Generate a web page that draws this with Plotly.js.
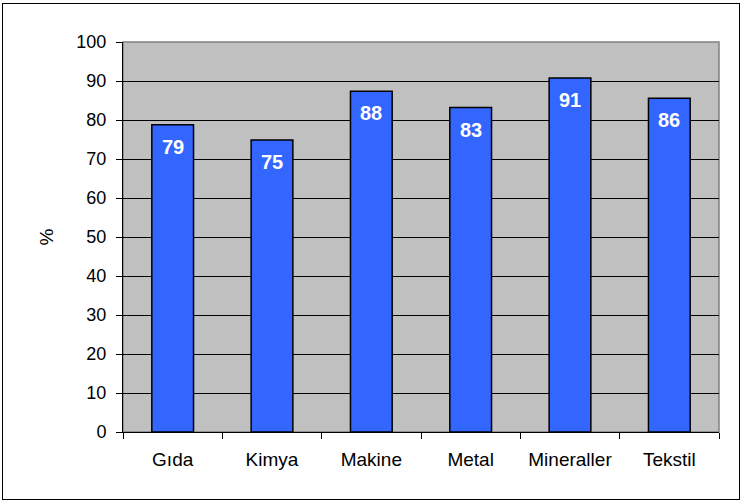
<!DOCTYPE html>
<html><head><meta charset="utf-8">
<script src="https://cdn.plot.ly/plotly-3.0.1.min.js"></script>
<style>
html,body{margin:0;padding:0;background:#fff;}
#wrap{position:relative;width:742px;height:501px;}
#chart{width:742px;height:501px;}
#frame{position:absolute;left:2px;top:3px;width:736px;height:495px;border:1px solid #000;pointer-events:none;}
</style></head><body>
<div id="wrap"><div id="chart"></div><div id="frame"></div></div>
<script>
const categories = ["Gıda", "Kimya", "Makine", "Metal", "Mineraller", "Tekstil"];
const values = [78.8, 74.9, 87.4, 83.2, 90.8, 85.6];
const labels = ["79", "75", "88", "83", "91", "86"];
const yTicks = [0, 10, 20, 30, 40, 50, 60, 70, 80, 90, 100];

const trace = {
  type: "bar",
  x: categories,
  y: values,
  width: 0.42,
  marker: {color: "#3366FF", line: {color: "#000000", width: 1.5}},
  hoverinfo: "none"
};

const annotations = categories.map((c, i) => ({
  x: c, y: values[i], xref: "x", yref: "y",
  text: "<b>" + labels[i] + "</b>", showarrow: false,
  yanchor: "middle", yshift: -22,
  font: {family: "Arial, Liberation Sans, sans-serif", size: 20, color: "#ffffff"}
}));

const layout = {
  width: 742, height: 501,
  margin: {l: 123, r: 23, t: 42, b: 69, pad: 0},
  paper_bgcolor: "#ffffff",
  plot_bgcolor: "#C0C0C0",
  font: {family: "Arial, Liberation Sans, sans-serif", size: 18, color: "#000"},
  showlegend: false,
  bargap: 0.58,
  xaxis: {
    type: "category",
    showgrid: false,
    showline: true, linecolor: "#000", linewidth: 1,
    ticks: "outside", ticklen: 6, tickcolor: "#000", tickwidth: 1,
    tickson: "boundaries",
    ticklabelstandoff: 10,
    tickfont: {size: 19},
    fixedrange: true
  },
  yaxis: {
    range: [0, 100],
    tickvals: yTicks,
    ticktext: yTicks.map(String),
    showgrid: true, gridcolor: "#000", gridwidth: 1,
    zeroline: false,
    showline: true, linecolor: "#000", linewidth: 1,
    ticks: "outside", ticklen: 6, tickcolor: "#000", tickwidth: 1,
    ticklabelstandoff: 6,
    tickfont: {size: 18},
    title: {text: "%", font: {size: 19}, standoff: 17},
    fixedrange: true
  },
  shapes: [{
    type: "rect", xref: "paper", yref: "paper", x0: 0, x1: 1, y0: 0, y1: 1,
    line: {color: "#808080", width: 1.5}, layer: "below"
  }],
  annotations: annotations
};

Plotly.newPlot("chart", [trace], layout, {displayModeBar: false, staticPlot: true});
</script>
</body></html>
